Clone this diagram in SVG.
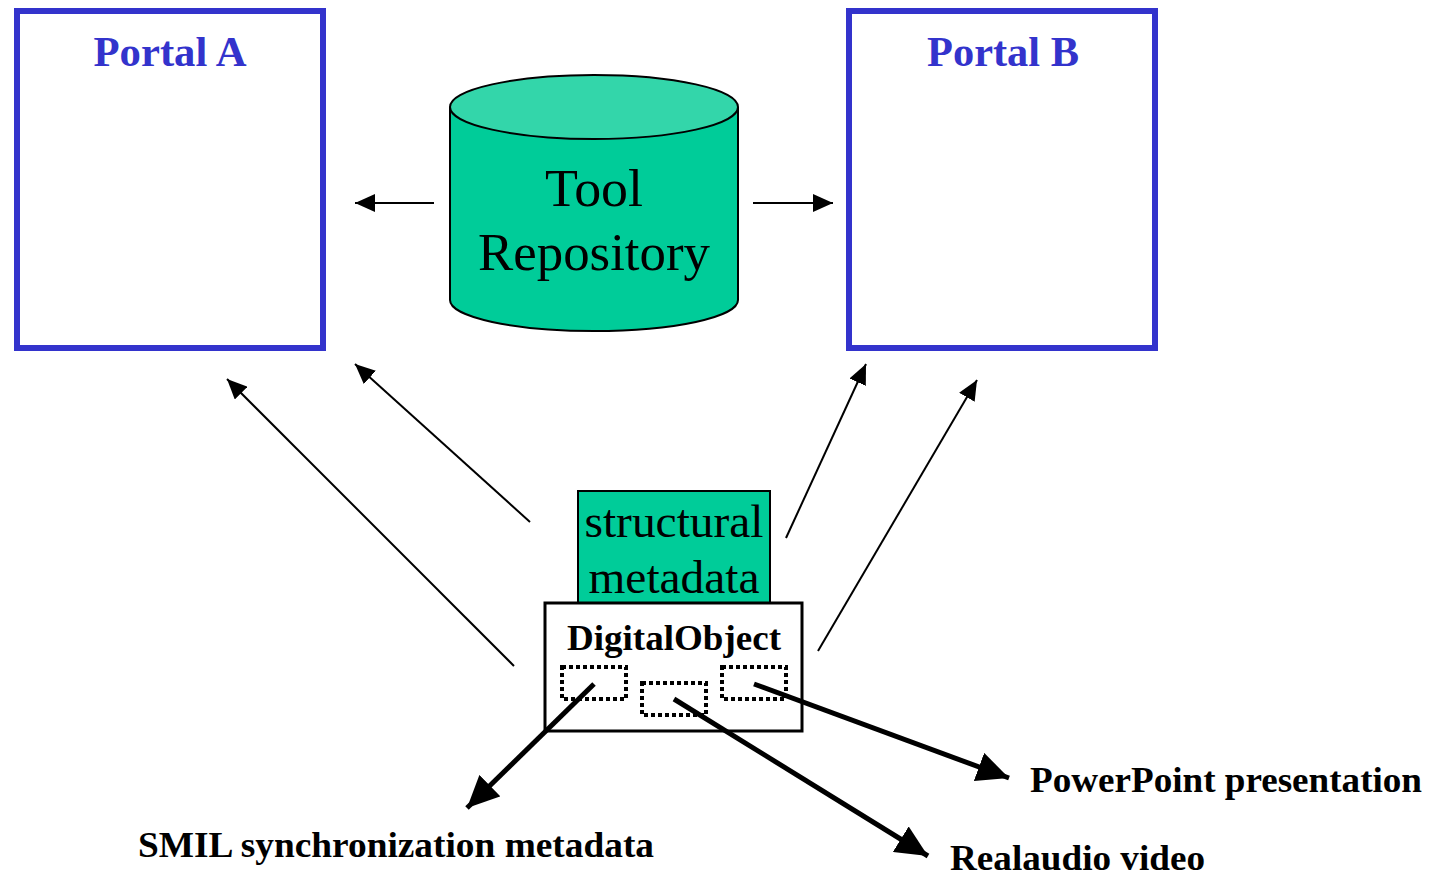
<svg xmlns="http://www.w3.org/2000/svg" width="1435" height="876" viewBox="0 0 1435 876">
  <style>
    .portal { fill: #ffffff; stroke: #3333cc; stroke-width: 6; }
    .ptitle { font-family: "Liberation Serif", serif; font-weight: bold; font-size: 42px; fill: #3333cc; text-anchor: middle; }
    .big { font-family: "Liberation Serif", serif; font-size: 52px; fill: #000; text-anchor: middle; }
    .mid { font-family: "Liberation Serif", serif; font-size: 47px; fill: #000; text-anchor: middle; }
    .lbl { font-family: "Liberation Serif", serif; font-weight: bold; font-size: 35px; fill: #000; }
    .thin { stroke: #000; stroke-width: 2; fill: none; marker-end: url(#headThin); }
    .thick { stroke: #000; stroke-width: 5; fill: none; marker-end: url(#headThick); }
    .slot { fill: none; stroke: #000; stroke-width: 4; stroke-dasharray: 4 3; }
  </style>
  <defs>
    <marker id="headThin" markerUnits="userSpaceOnUse" markerWidth="22" markerHeight="18" refX="20" refY="9" orient="auto">
      <path d="M0,0 L20,9 L0,18 Z" fill="#000"/>
    </marker>
    <marker id="headThick" markerUnits="userSpaceOnUse" markerWidth="34" markerHeight="30" refX="32" refY="15" orient="auto">
      <path d="M0,0 L32,15 L0,30 Z" fill="#000"/>
    </marker>
  </defs>

  <g id="portalA">
    <rect class="portal" x="17" y="11" width="306" height="337"/>
    <text class="ptitle" x="170" y="66" textLength="153" lengthAdjust="spacingAndGlyphs">Portal A</text>
  </g>

  <g id="portalB">
    <rect class="portal" x="849" y="11" width="306" height="337"/>
    <text class="ptitle" x="1003" y="66" textLength="152" lengthAdjust="spacingAndGlyphs">Portal B</text>
  </g>

  <g id="toolRepository">
    <path d="M450,107 L450,300 A144,31 0 0 0 738,300 L738,107" fill="#00cc99" stroke="#000" stroke-width="2"/>
    <ellipse cx="594" cy="107" rx="144" ry="32" fill="#33d6aa" stroke="#000" stroke-width="2"/>
    <text class="big" x="594" y="206" textLength="98" lengthAdjust="spacingAndGlyphs">Tool</text>
    <text class="big" x="594" y="270" textLength="232" lengthAdjust="spacingAndGlyphs">Repository</text>
  </g>

  <g id="structuralMetadata">
    <rect x="578" y="491" width="192" height="112" fill="#00cc99" stroke="#000" stroke-width="2"/>
    <text class="mid" x="674" y="537" textLength="179" lengthAdjust="spacingAndGlyphs">structural</text>
    <text class="mid" x="674" y="593" textLength="171" lengthAdjust="spacingAndGlyphs">metadata</text>
  </g>

  <g id="digitalObject">
    <rect x="545" y="603" width="257" height="128" fill="#fff" stroke="#000" stroke-width="3"/>
    <text x="674" y="650" font-family="Liberation Serif, serif" font-weight="bold" font-size="35" text-anchor="middle" textLength="214" lengthAdjust="spacingAndGlyphs">DigitalObject</text>
    <rect class="slot" x="562" y="667" width="64" height="32"/>
    <rect class="slot" x="642" y="683" width="64" height="32"/>
    <rect class="slot" x="722" y="667" width="64" height="32"/>
  </g>

  <g id="labels">
    <text class="lbl" x="138" y="857" textLength="516" lengthAdjust="spacingAndGlyphs">SMIL synchronization metadata</text>
    <text class="lbl" x="950" y="870" textLength="255" lengthAdjust="spacingAndGlyphs">Realaudio video</text>
    <text class="lbl" x="1030" y="792" textLength="392" lengthAdjust="spacingAndGlyphs">PowerPoint presentation</text>
  </g>

  <g id="connectors">
    <line class="thin" x1="434" y1="203" x2="355" y2="203"/>
    <line class="thin" x1="753" y1="203" x2="833" y2="203"/>
    <line class="thin" x1="514" y1="666" x2="227" y2="379"/>
    <line class="thin" x1="530" y1="522" x2="355" y2="364"/>
    <line class="thin" x1="786" y1="538" x2="866" y2="364"/>
    <line class="thin" x1="818" y1="651" x2="977" y2="380"/>
    <line class="thick" x1="594" y1="684" x2="467" y2="808"/>
    <line class="thick" x1="674" y1="699" x2="928" y2="856"/>
    <line class="thick" x1="754" y1="684" x2="1009" y2="778"/>
  </g>
</svg>
